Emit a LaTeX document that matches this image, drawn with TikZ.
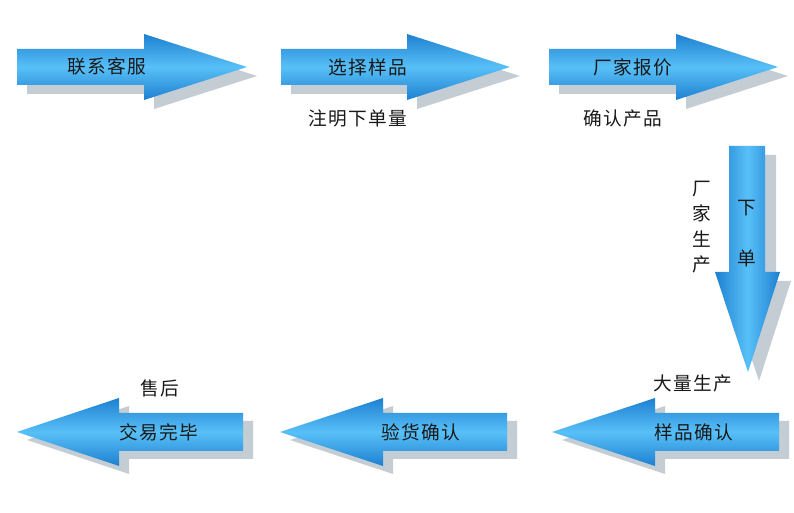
\documentclass[tikz,border=0pt]{standalone}
\usepackage{fontspec}
\newfontfamily\cjk[LetterSpace=8]{Noto Sans CJK SC}
\newfontfamily\cjkv{Noto Sans CJK SC}
\definecolor{adark}{RGB}{30,128,208}
\definecolor{alight}{RGB}{88,192,248}
\definecolor{ashadow}{RGB}{196,204,212}
\definecolor{txt}{RGB}{25,25,25}
\tikzset{
  hshade/.style={top color=adark,bottom color=adark,middle color=alight,draw=none},
  vshade/.style={left color=adark,right color=adark,middle color=alight,draw=none},
  shadowfill/.style={fill=ashadow,draw=none},
  lbl/.style={font=\cjk\fontsize{14pt}{16pt}\selectfont,text=txt,inner sep=0pt},
  vlbl/.style={font=\cjkv\fontsize{14pt}{16pt}\selectfont,text=txt,inner sep=0pt},
}
% right arrow: #1 left x, #2 head base x, #3 tip x, #4 center y
\newcommand{\rarr}[4]{%
  \path[shadowfill,shift={(10,9)}] (#1,#4-18) -- (#2,#4-18) -- (#2,#4-33) -- (#3,#4) -- (#2,#4+33) -- (#2,#4+18) -- (#1,#4+18) -- cycle;
  \path[hshade] (#1,#4-18) -- (#2,#4-18) -- (#2,#4-33) -- (#3,#4) -- (#2,#4+33) -- (#2,#4+18) -- (#1,#4+18) -- cycle;}
% left arrow: #1 tip x, #2 head base x, #3 right x, #4 center y
\newcommand{\larr}[4]{%
  \path[shadowfill,shift={(10,8)}] (#3,#4-19) -- (#2,#4-19) -- (#2,#4-34) -- (#1,#4) -- (#2,#4+34) -- (#2,#4+19) -- (#3,#4+19) -- cycle;
  \path[hshade] (#3,#4-19) -- (#2,#4-19) -- (#2,#4-34) -- (#1,#4) -- (#2,#4+34) -- (#2,#4+19) -- (#3,#4+19) -- cycle;}
\begin{document}
\begin{tikzpicture}[x=0.75pt,y=-0.75pt]
\useasboundingbox (0,0) rectangle (794,513);
\fill[white] (0,0) rectangle (794,513);
% top row
\rarr{17}{144}{247}{67}
\rarr{281}{407}{510}{67}
\rarr{549}{676}{778}{67}
% vertical arrow
\path[shadowfill,shift={(11,9)}] (729,146) -- (765,146) -- (765,272) -- (780,272) -- (748,372) -- (715,272) -- (729,272) -- cycle;
\path[vshade] (729,146) -- (765,146) -- (765,272) -- (780,272) -- (748,372) -- (715,272) -- (729,272) -- cycle;
% bottom row
\larr{17}{119}{243}{432}
\larr{280}{383}{507}{432}
\larr{552}{655}{779}{432}
% labels
\node[lbl] (n1) at (107,66) {联系客服};
\node[lbl] (n2) at (368,67) {选择样品};
\node[lbl] (n3) at (633,67) {厂家报价};
\node[lbl] (l2) at (358,118) {注明下单量};
\node[lbl] (l3) at (623,118) {确认产品};
\node[vlbl] (v1) at (747,208) {下};
\node[vlbl] (v2) at (747,258) {单};
\node[vlbl,align=center] (l4) at (702,227) {厂\\[3pt]家\\[3pt]生\\[3pt]产};
\node[lbl] (l5) at (693,383) {大量生产};
\node[lbl] (n6) at (694,432) {样品确认};
\node[lbl] (n7) at (421,432) {验货确认};
\node[lbl] (n8) at (159,432) {交易完毕};
\node[lbl] (l8) at (160,388) {售后};
\end{tikzpicture}
\end{document}
